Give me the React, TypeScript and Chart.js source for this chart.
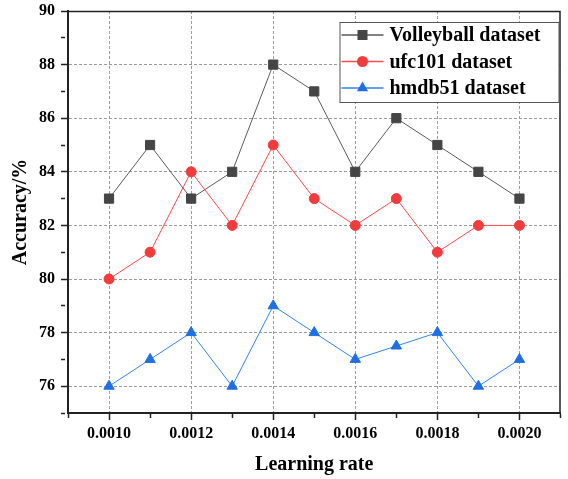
import React, { useEffect, useRef } from 'react';
import { Chart, registerables } from 'chart.js';

Chart.register(...registerables);

// ---- data ----
const learningRates = [0.001, 0.0011, 0.0012, 0.0013, 0.0014, 0.0015, 0.0016, 0.0017, 0.0018, 0.0019, 0.002];
const volleyball = [83, 85, 83, 84, 88, 87, 84, 86, 85, 84, 83];
const ufc101 = [80, 81, 84, 82, 85, 83, 82, 83, 81, 82, 82];
const hmdb51 = [76, 77, 78, 76, 79, 78, 77, 77.5, 78, 76, 77];
const seriesNames = ['Volleyball dataset', 'ufc101 dataset', 'hmdb51 dataset'];
const xTickLabels = ['0.0010', '0.0012', '0.0014', '0.0016', '0.0018', '0.0020'];
const yTickLabels = ['76', '78', '80', '82', '84', '86', '88', '90'];

const FONT = '"Liberation Serif", "Times New Roman", serif';

const isMajorX = (v: number) => xTickLabels.includes(Number(v).toFixed(4));
const isMajorY = (v: number) => yTickLabels.includes(String(Math.round(v)));

const framePlugin = {
  id: 'frame',
  afterDatasetsDraw(chart: any) {
    const { ctx, chartArea } = chart;
    ctx.save();
    ctx.strokeStyle = '#222';
    ctx.lineWidth = 1.5;
    ctx.beginPath();
    ctx.moveTo(chartArea.left, chartArea.top + 0.5);
    ctx.lineTo(chartArea.right - 0.5, chartArea.top + 0.5);
    ctx.lineTo(chartArea.right - 0.5, chartArea.bottom);
    ctx.stroke();
    ctx.restore();
  },
};

const legendPlugin = {
  id: 'boxLegend',
  afterDraw(chart: any) {
    const { ctx, chartArea } = chart;
    const w = 219;
    const h = 80;
    const right = chartArea.right - 2;
    const left = right - w;
    const top = chartArea.top + 11;
    ctx.save();
    ctx.fillStyle = '#ffffff';
    ctx.fillRect(left, top, w, h);
    ctx.strokeStyle = '#555';
    ctx.lineWidth = 1;
    ctx.strokeRect(left + 0.5, top + 0.5, w, h);
    chart.data.datasets.forEach((ds: any, i: number) => {
      const y = top + 13 + i * 26.5;
      ctx.strokeStyle = ds.borderColor;
      ctx.lineWidth = 1.5;
      ctx.beginPath();
      ctx.moveTo(left + 2, y);
      ctx.lineTo(left + 44, y);
      ctx.stroke();
      const cx = left + 23;
      ctx.fillStyle = ds.pointBackgroundColor;
      ctx.beginPath();
      if (ds.pointStyle === 'rect') {
        ctx.rect(cx - 5, y - 5, 10, 10);
      } else if (ds.pointStyle === 'circle') {
        ctx.arc(cx, y, 5.5, 0, Math.PI * 2);
      } else {
        const r = 6.5;
        ctx.moveTo(cx, y - r);
        ctx.lineTo(cx + r * 0.866, y + r / 2);
        ctx.lineTo(cx - r * 0.866, y + r / 2);
        ctx.closePath();
      }
      ctx.fill();
      ctx.fillStyle = '#000';
      ctx.font = `bold 20px ${FONT}`;
      ctx.textBaseline = 'middle';
      ctx.textAlign = 'left';
      ctx.fillText(ds.label, left + 50, y + 1);
    });
    ctx.restore();
  },
};

export default function App() {
  const ref = useRef<HTMLCanvasElement | null>(null);

  useEffect(() => {
    if (!ref.current) return;
    const mk = (vals: number[]) => vals.map((v, i) => ({ x: learningRates[i], y: v }));
    const chart = new Chart(ref.current, {
      type: 'line',
      data: {
        datasets: [
          {
            label: seriesNames[0],
            data: mk(volleyball),
            borderColor: '#5a5a5a',
            borderWidth: 1,
            pointStyle: 'rect',
            pointRadius: 6.5,
            pointBackgroundColor: '#454545',
            pointBorderColor: '#454545',
            pointBorderWidth: 1,
          },
          {
            label: seriesNames[1],
            data: mk(ufc101),
            borderColor: '#ff4a4a',
            borderWidth: 1,
            pointStyle: 'circle',
            pointRadius: 5,
            pointBackgroundColor: '#f03c3c',
            pointBorderColor: '#f03c3c',
            pointBorderWidth: 1,
          },
          {
            label: seriesNames[2],
            data: mk(hmdb51),
            borderColor: '#3383ea',
            borderWidth: 1,
            pointStyle: 'triangle',
            pointRadius: 6,
            pointBackgroundColor: '#1f6fe0',
            pointBorderColor: '#1f6fe0',
            pointBorderWidth: 1,
          },
        ],
      } as any,
      options: {
        responsive: false,
        animation: false,
        layout: { padding: { top: 11, right: 6, left: 0, bottom: 0 } },
        plugins: {
          legend: { display: false },
          tooltip: { enabled: false },
        },
        scales: {
          x: {
            type: 'linear',
            min: 0.0009,
            max: 0.0021,
            afterFit: (s: any) => {
              s.height = 66;
              s.paddingLeft = 0;
              s.paddingRight = 0;
            },
            ticks: {
              stepSize: 0.0001,
              autoSkip: false,
              maxRotation: 0,
              padding: 4,
              color: '#000',
              font: { family: FONT, size: 16, weight: 'bold' },
              callback: (v: any) => (isMajorX(Number(v)) ? Number(v).toFixed(4) : ''),
            },
            grid: {
              drawTicks: true,
              tickLength: 7,
              color: (c: any) => {
                const v = c.tick?.value;
                if (v === undefined) return 'transparent';
                return isMajorX(v) ? '#9a9a9a' : 'transparent';
              },
              lineWidth: 1,
              tickColor: '#222',
              tickWidth: 1.5,
              tickBorderDash: (c: any) => {
                const v = c.tick?.value;
                return v !== undefined && isMajorX(v) ? [] : [4, 30];
              },
            } as any,
            border: { display: true, color: '#222', width: 2, dash: [3, 2] },
            title: {
              display: true,
              text: 'Learning rate',
              color: '#000',
              font: { family: FONT, size: 20, weight: 'bold' },
              padding: { top: 0, bottom: 2.5 },
            },
          },
          y: {
            type: 'linear',
            min: 75,
            max: 90,
            afterFit: (s: any) => {
              s.width = 68;
              s.paddingTop = 0;
              s.paddingBottom = 0;
            },
            ticks: {
              stepSize: 1,
              autoSkip: false,
              padding: 6,
              color: '#000',
              font: { family: FONT, size: 16, weight: 'bold' },
              callback: (v: any) => (isMajorY(Number(v)) ? String(v) : ''),
            },
            grid: {
              drawTicks: true,
              tickLength: 7,
              color: (c: any) => {
                const v = c.tick?.value;
                if (v === undefined || v === 90) return 'transparent';
                return isMajorY(v) ? '#9a9a9a' : 'transparent';
              },
              lineWidth: 1,
              tickColor: '#222',
              tickWidth: 1.5,
              tickBorderDash: (c: any) => {
                const v = c.tick?.value;
                return v !== undefined && isMajorY(v) ? [] : [4, 30];
              },
            } as any,
            border: { display: true, color: '#222', width: 2, dash: [3, 2] },
            title: {
              display: true,
              text: 'Accuracy/%',
              color: '#000',
              font: { family: FONT, size: 20, weight: 'bold' },
              padding: { top: 9, bottom: 0 },
            },
          },
        },
      } as any,
      plugins: [framePlugin, legendPlugin],
    });
    return () => chart.destroy();
  }, []);

  return (
    <div style={{ position: 'absolute', left: 0, top: 0, width: 568, height: 479, background: '#fff' }}>
      <canvas ref={ref} width={568} height={479} />
    </div>
  );
}
